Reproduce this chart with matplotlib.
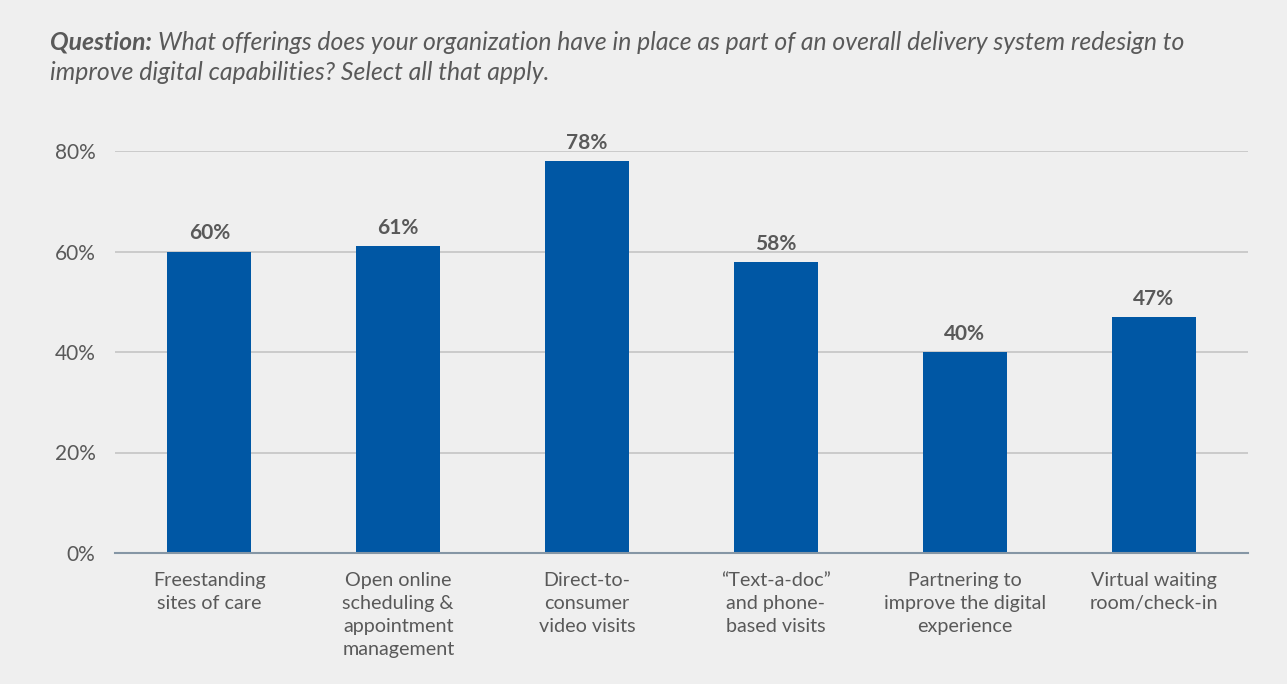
import matplotlib.pyplot as plt

# Survey results: share of organizations with each digital offering in place
categories = [
    "Freestanding\nsites of care",
    "Open online\nscheduling &\nappointment\nmanagement",
    "Direct-to-\nconsumer\nvideo visits",
    "\u201cText-a-doc\u201d\nand phone-\nbased visits",
    "Partnering to\nimprove the digital\nexperience",
    "Virtual waiting\nroom/check-in",
]
values = [60, 61, 78, 58, 40, 47]
yticks = [0, 20, 40, 60, 80]

bg = "#efefef"
bar_color = "#0057a4"
text_color = "#595959"

plt.rcParams["font.family"] = ["Lato", "DejaVu Sans"]

fig = plt.figure(figsize=(12.87, 6.84), dpi=100, facecolor=bg)
ax = fig.add_axes([115 / 1287, 1 - 553 / 684, (1248 - 115) / 1287, (553 - 151) / 684])
ax.set_facecolor(bg)

x = range(len(categories))
bars = ax.bar(x, values, width=0.445, color=bar_color, zorder=3)

for xi, v in zip(x, values):
    ax.text(xi, v + 1.6, f"{v}%", ha="center", va="bottom",
            fontsize=15, fontweight="bold", color=text_color)

ax.set_xlim(-0.5, len(categories) - 0.5)
ax.set_ylim(0, 80)
ax.set_yticks(yticks)
ax.set_yticklabels([f"{t}%" for t in yticks])
ax.yaxis.grid(True, color="#c4c4c4", linewidth=1.2, zorder=0)
ax.tick_params(axis="y", length=0, pad=14, labelsize=15, labelcolor=text_color)

ax.set_xticks(list(x))
ax.set_xticklabels(categories, linespacing=1.42)
ax.tick_params(axis="x", length=0, pad=14, labelsize=14.2, labelcolor=text_color)

for side in ["top", "right", "left"]:
    ax.spines[side].set_visible(False)
ax.spines["bottom"].set_color("#8596a5")
ax.spines["bottom"].set_linewidth(1.5)
ax.spines["bottom"].set_zorder(4)

# Question heading: bold lead-in followed by the italic question text
title_size = 17.8
lead = fig.text(50 / 1287, 1 - 42 / 684, "Question:", fontsize=title_size,
                fontweight="bold", style="italic", color=text_color, va="center")
fig.canvas.draw()
lead_end = lead.get_window_extent().x1 / fig.bbox.width
fig.text(lead_end + 6 / 1287, 1 - 42 / 684,
         "What offerings does your organization have in place as part of an overall delivery system redesign to",
         fontsize=title_size, style="italic", color=text_color, va="center")
fig.text(50 / 1287, 1 - 73 / 684,
         "improve digital capabilities? Select all that apply.",
         fontsize=title_size, style="italic", color=text_color, va="center")

fig.savefig("out.png", dpi=100, facecolor=bg)
